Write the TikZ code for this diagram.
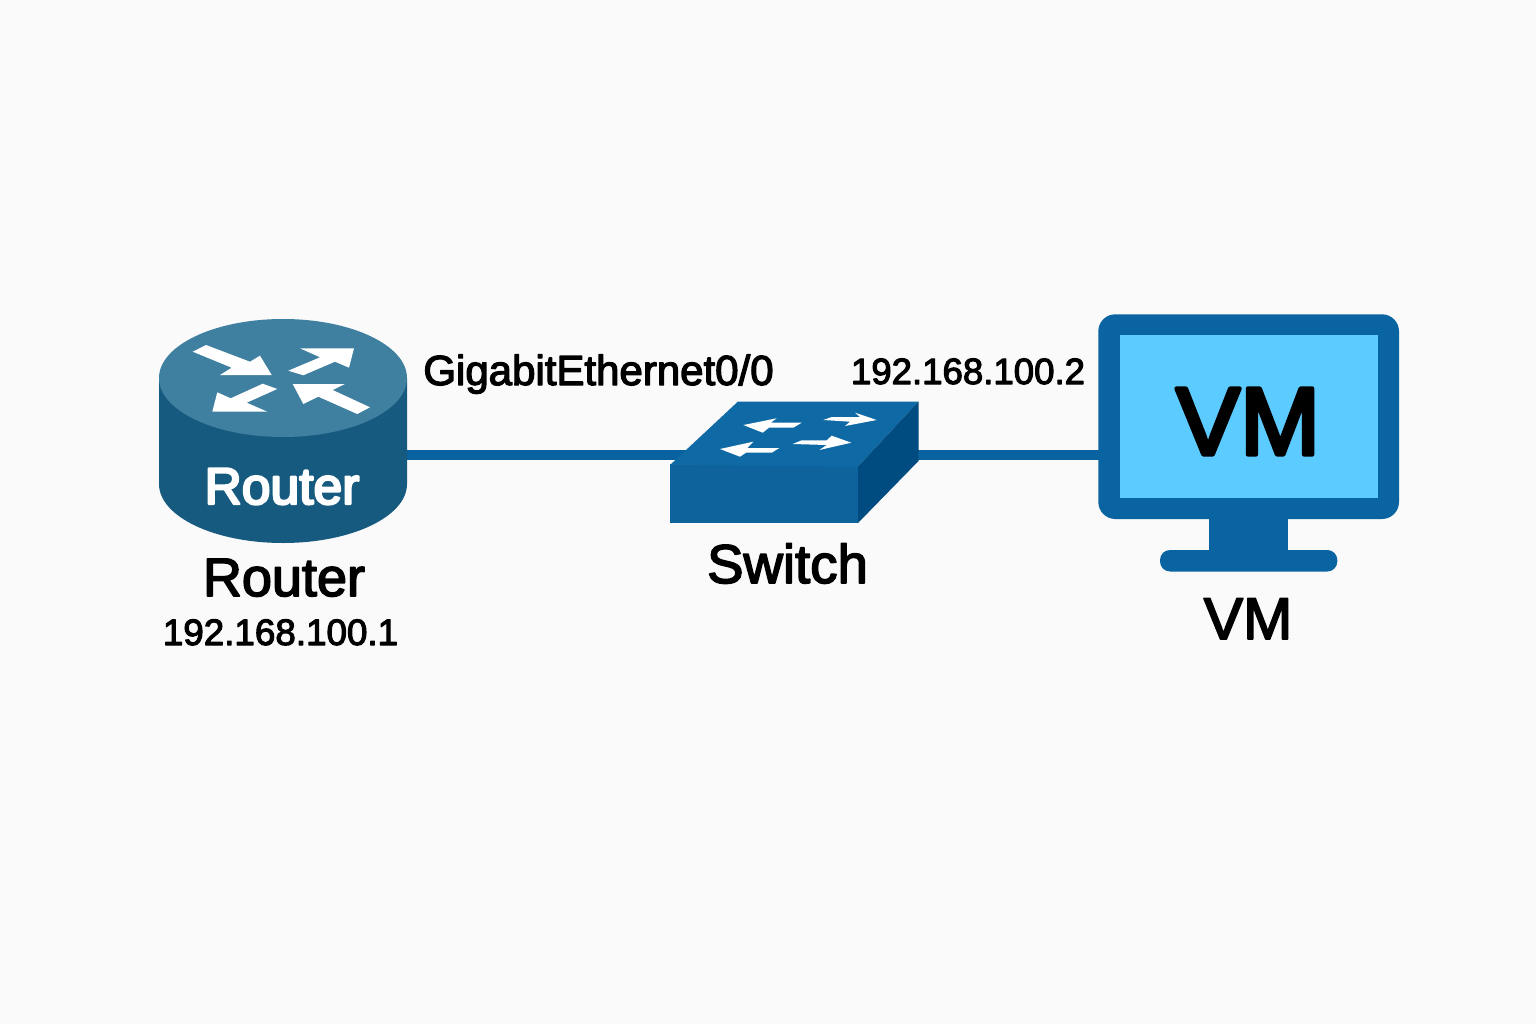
\documentclass[tikz,border=0pt]{standalone}
\usepackage{fontspec}
\setmainfont{Liberation Sans}
\newfontfamily\iconfont[FakeBold=4.5]{Liberation Sans}
\newfontfamily\labelfont[FakeBold=3]{Liberation Sans}
\definecolor{bgcol}{HTML}{FAFAFA}
\definecolor{linkcol}{HTML}{0A62A0}
\definecolor{rtop}{HTML}{3F7FA0}
\definecolor{rside}{HTML}{175A80}
\definecolor{swtop}{HTML}{0F69A4}
\definecolor{swfront}{HTML}{0E639C}
\definecolor{swside}{HTML}{004C80}
\definecolor{vmbody}{HTML}{0A64A2}
\definecolor{vmscreen}{HTML}{5CCBFF}
\tikzset{
  link/.style={draw=linkcol,line width=9.5pt},
  whitearrow/.style={fill=white,draw=none},
  lbl/.style={anchor=base,inner sep=0pt,text=black},
}
\newcommand{\fs}[1]{\fontsize{#1}{#1}\selectfont}
\newcommand{\rj}{\special{pdf:code 1 j}}
\begin{document}
\begin{tikzpicture}[x=1pt,y=-1pt]
\useasboundingbox (0,0) rectangle (1536,1024);
\fill[bgcol] (0,0) rectangle (1536,1024);
% ports
\coordinate (routerPort) at (400,455);
\coordinate (switchW) at (690,455);
\coordinate (switchE) at (905,455);
\coordinate (vmPort) at (1105,455);
\draw[link] (routerPort) -- (switchW);
\draw[link] (switchE) -- (vmPort);
% router
\fill[rside] (159,378) -- (159,484) arc[start angle=180,end angle=0,x radius=124,y radius=59] -- (407,378) -- cycle;
\fill[rtop] (283,378) ellipse[x radius=124,y radius=59];
\fill[whitearrow] (206,345)--(250,361.7)--(260,355.7)--(271.7,375)--(220,375)--(231.7,367.7)--(192.7,351.7)--cycle;
\fill[whitearrow] (288.3,370.7)--(320,357.3)--(300,348.3)--(354,348.3)--(349,367.7)--(335,361.7)--(303.3,375.3)--cycle;
\fill[whitearrow] (277.3,389)--(246.7,402.7)--(267.3,411.7)--(212.3,411.7)--(217.3,392.3)--(230.7,398.3)--(262.7,383.7)--cycle;
\fill[whitearrow] (292.7,384)--(345,384)--(332.7,390)--(370,407.3)--(357.3,414)--(318.3,396.7)--(303.3,404)--cycle;
\node[lbl,text=white,font=\iconfont\fs{51.6}] (routerIcon) at (282,504) {\rj Router};
% switch
\fill[swfront] (670,464) rectangle (858,523);
\fill[swtop] (670,465)--(738,401.5)--(918.5,401.5)--(858,466.5)--cycle;
\fill[swside] (858,466.5)--(918.5,401.5)--(918.5,461)--(858,523)--cycle;
\fill[whitearrow] (743.3,425)--(776.7,418.3)--(770.7,422.7)--(801.7,422.7)--(793.3,427.7)--(769,427.7)--(762.7,432.7)--cycle;
\fill[whitearrow] (823.3,420)--(831.7,417)--(860,417)--(855,412.7)--(876.7,420)--(845,426)--(850,421.7)--cycle;
\fill[whitearrow] (720,449)--(753.3,441.7)--(747.3,448)--(779.3,448)--(771.7,452.7)--(746,452.7)--(740,456.7)--cycle;
\fill[whitearrow] (792.7,444)--(801.7,440.3)--(826.7,440.3)--(831.7,435.7)--(851.3,442.7)--(819.3,450)--(826.7,445)--cycle;
% monitor
\fill[vmbody] (1209.3,510) rectangle (1287.7,560);
\fill[vmbody,rounded corners=17pt] (1098.3,314.3) rectangle (1399,519);
\fill[vmbody,rounded corners=10pt] (1160,550) rectangle (1337.3,571.5);
\fill[vmscreen] (1120,335) rectangle (1377.7,498.3);
\node[lbl,font=\iconfont\fs{96}] (vmIcon) at (1246.5,454.5) {\rj\hspace{3pt}VM};
% labels
\node[lbl,font=\labelfont\fs{54}] (routerName) at (284,596) {\rj Router};
\node[lbl,font=\labelfont\fs{36.8}] (routerIP) at (280.5,645) {\rj 192.168.100.1};
\node[lbl,font=\labelfont\fs{42}] (ifName) at (598.5,385) {\rj GigabitEthernet0/0};
\node[lbl,font=\labelfont\fs{36.6}] (vmIP) at (968,384) {\rj 192.168.100.2};
\node[lbl,font=\labelfont\fs{54.6}] (switchName) at (787.5,583) {\rj Switch};
\node[lbl,font=\labelfont\fs{59}] (vmName) at (1248,639) {\rj VM};
\end{tikzpicture}
\end{document}
